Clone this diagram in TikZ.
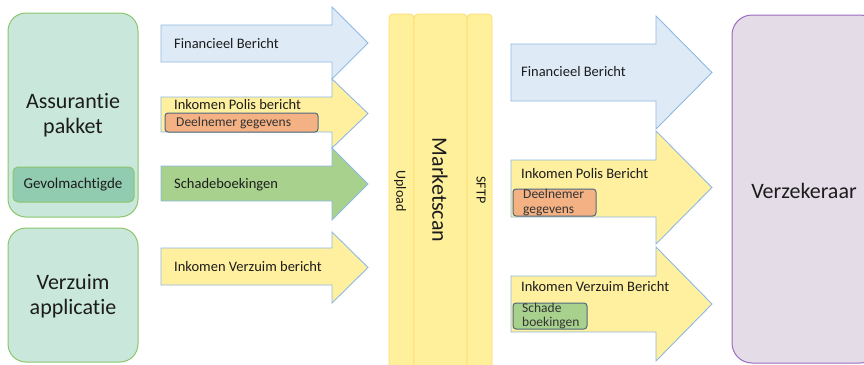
\documentclass[tikz,border=0pt]{standalone}
\usepackage{fontspec}
\setmainfont{Carlito}[Ligatures=NoCommon]
\definecolor{txt}{HTML}{1C1C1C}
\definecolor{appfill}{HTML}{C9E7DB}
\definecolor{appborder}{HTML}{8CC66C}
\definecolor{gevfill}{HTML}{91CBB0}
\definecolor{bluefill}{HTML}{DEEBF7}
\definecolor{blueborder}{HTML}{8FB8E2}
\definecolor{yelfill}{HTML}{FFF09F}
\definecolor{greenfill}{HTML}{A9D18E}
\definecolor{orfill}{HTML}{F4B183}
\definecolor{darkborder}{HTML}{4E6A80}
\definecolor{colfill}{HTML}{FFF09C}
\definecolor{colborder}{HTML}{FFDC6E}
\definecolor{verfill}{HTML}{E4DDE7}
\definecolor{verborder}{HTML}{9A6CC2}
\newcommand\bigarrow[8]{\draw[#1] (#2,#5) -- (#3,#5) -- (#3,#7) -- (#4,{(#7+#8)/2}) -- (#3,#8) -- (#3,#6) -- (#2,#6) -- cycle;}
\begin{document}
\begin{tikzpicture}[x=1pt,y=-1pt,
  every node/.style={inner sep=0pt, text=txt},
  appbox/.style={draw=appborder, fill=appfill, line width=1pt, rounded corners=18pt},
  gevbox/.style={draw=appborder, fill=gevfill, line width=1pt, rounded corners=5pt},
  bluearrow/.style={draw=blueborder, fill=bluefill, line width=0.9pt},
  yelarrow/.style={draw=blueborder, fill=yelfill, line width=0.9pt},
  greenarrow/.style={draw=blueborder, fill=greenfill, line width=0.9pt},
  orbox/.style={draw=darkborder, fill=orfill, line width=1pt, rounded corners=3pt},
  grbox/.style={draw=darkborder, fill=greenfill, line width=1pt, rounded corners=3pt},
  colbox/.style={draw=colborder, fill=colfill, line width=0.8pt, rounded corners=4pt},
  verbox/.style={draw=verborder, fill=verfill, line width=1pt, rounded corners=20pt},
  lbl/.style={anchor=west, font=\fontsize{14.5}{17}\selectfont},
  sml/.style={anchor=west, font=\fontsize{13.5}{15}\selectfont, text=txt!90},
  big/.style={font=\fontsize{22}{25}\selectfont, align=center}]
\useasboundingbox (0,0) rectangle (864,364);
\clip (0,0) rectangle (864,364);
% left boxes
\draw[appbox] (8,13) rectangle (138,217);
\node[big] (ass) at (73,115) {Assurantie\\pakket};
\draw[gevbox] (13,167) rectangle (134,202);
\node[font=\fontsize{15}{17}\selectfont] (gev) at (73,185) {Gevolmachtigde};
\draw[appbox] (8,228) rectangle (138,362);
\node[big] (verz) at (73,296) {Verzuim\\applicatie};
% left arrows
\bigarrow{bluearrow}{161}{332}{368}{25}{62}{7}{79}
\bigarrow{yelarrow}{161}{332}{368}{97}{132}{79}{148}
\bigarrow{greenarrow}{161}{332}{368}{166}{201}{148}{220}
\bigarrow{yelarrow}{161}{332}{368}{248}{285}{232}{303}
\node[lbl] (fb1) at (174,44) {Financieel Bericht};
\node[lbl] (ipb1) at (174,105) {Inkomen Polis bericht};
\draw[orbox] (165,113) rectangle (318,132);
\node[sml] (dg1) at (176,123) {Deelnemer gegevens};
\node[lbl] (sb1) at (174,185) {Schadeboekingen};
\node[lbl] (ivb1) at (174,267) {Inkomen Verzuim bericht};
% middle columns
\draw[colbox] (389,14) rectangle (414,380);
\draw[colbox] (414,14) rectangle (467,380);
\draw[colbox] (467,14) rectangle (492,380);
\node[rotate=-90, font=\fontsize{14}{16}\selectfont] (up) at (400,191) {Upload};
\node[rotate=-90, font=\fontsize{22}{26}\selectfont] (ms) at (440,190) {Marketscan};
\node[rotate=-90, font=\fontsize{14}{16}\selectfont] (sftp) at (481,190) {SFTP};
% right arrows
\bigarrow{bluearrow}{511}{656}{712}{44}{101}{16}{129}
\bigarrow{yelarrow}{511}{656}{712}{160}{217}{131}{244}
\bigarrow{yelarrow}{511}{656}{712}{276}{332}{247}{361}
\node[lbl] (fb2) at (521,72) {Financieel Bericht};
\node[lbl] (ipb2) at (521,174) {Inkomen Polis Bericht};
\draw[orbox] (513,189) rectangle (596,216);
\node[sml, align=left] (dg2) at (523,202) {Deelnemer\\gegevens};
\node[lbl] (ivb2) at (521,287) {Inkomen Verzuim Bericht};
\draw[grbox] (513,303) rectangle (587,329);
\node[sml, align=left, font=\fontsize{13.5}{14}\selectfont] (sb2) at (522,316) {Schade\\boekingen};
% right box
\draw[verbox] (732,15) rectangle (880,363);
\node[font=\fontsize{22}{26}\selectfont] (vk) at (804,191) {Verzekeraar};
\end{tikzpicture}
\end{document}
